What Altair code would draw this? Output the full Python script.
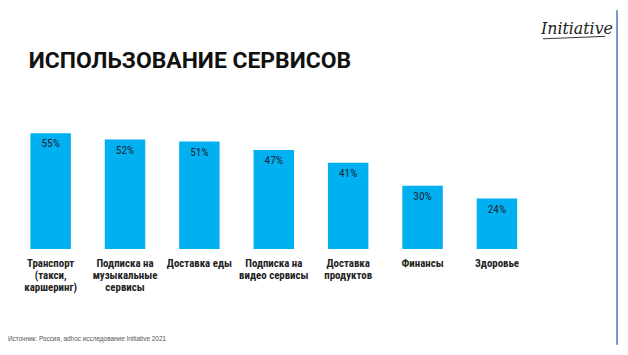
import altair as alt
import pandas as pd

categories = [
    "Транспорт\n(такси,\nкаршеринг)",
    "Подписка на\nмузыкальные\nсервисы",
    "Доставка еды",
    "Подписка на\nвидео сервисы",
    "Доставка\nпродуктов",
    "Финансы",
    "Здоровье",
]
values = [55, 52, 51, 47, 41, 30, 24]
value_labels = ["55%", "52%", "51%", "47%", "41%", "30%", "24%"]

title_text = "ИСПОЛЬЗОВАНИЕ СЕРВИСОВ"
logo_text = "Initiative"
source_text = "Источник: Россия, adhoc исследование Initiative 2021"

df = pd.DataFrame({"cat": categories, "val": values, "lab": value_labels})

order = categories
xs = alt.X("cat:N", sort=order, axis=None,
           scale=alt.Scale(range=[5.5, 533], paddingInner=0.456, paddingOuter=0.228))
ys = alt.Y("val:Q", axis=None, scale=alt.Scale(domain=[0, 100], range=[242, 28.5]))

COND = "Roboto Condensed, Liberation Sans Narrow, DejaVu Sans Condensed, Roboto, sans-serif"

bars = alt.Chart(df).mark_bar(color="#00B0F0", clip=False).encode(x=xs, y=ys, y2=alt.datum(0))

vals = alt.Chart(df).mark_text(fontSize=11.5, font=COND, color="#1d2433", baseline="middle", dy=11.5).encode(
    x=xs, y=ys, text="lab:N"
)

cats = alt.Chart(df).mark_text(
    fontSize=11, font=COND, fontWeight="bold", color="#222222", baseline="middle",
    lineBreak="\n", lineHeight=12.4
).encode(x=xs, y=alt.value(257), text="cat:N")

meta = pd.DataFrame({"t": [title_text]})
title = alt.Chart(meta).mark_text(
    fontSize=23.2, font="Roboto", fontWeight="bold", color="#111111", align="left", baseline="alphabetic"
).encode(x=alt.value(21), y=alt.value(58.5), text="t:N")

logo = alt.Chart(pd.DataFrame({"t": [logo_text]})).mark_text(
    fontSize=16, font="DejaVu Serif", fontStyle="italic", color="#222222", align="left", baseline="alphabetic"
).encode(x=alt.value(540), y=alt.value(24.5), text="t:N")

swoosh = alt.Chart(pd.DataFrame({"a": [0]})).mark_rule(color="#333333", strokeWidth=1).encode(
    x=alt.value(542), x2=alt.value(605), y=alt.value(29), y2=alt.value(26.5)
)

source = alt.Chart(pd.DataFrame({"t": [source_text]})).mark_text(
    fontSize=6.5, font="Liberation Sans", color="#555555", align="left", baseline="middle"
).encode(x=alt.value(0), y=alt.value(333), text="t:N")

frame = alt.Chart(pd.DataFrame({"a": [0]})).mark_rule(color="#4472C4", strokeWidth=1.5).encode(
    x=alt.value(617), y=alt.value(0), y2=alt.value(339)
)

chart = alt.layer(bars, vals, cats, title, logo, swoosh, source, frame).properties(
    width=620, height=339, autosize=alt.AutoSizeParams(type="none"), padding=0
).configure_view(stroke=None)

chart.save("out.html", embed_options={"renderer": "svg", "actions": False})
